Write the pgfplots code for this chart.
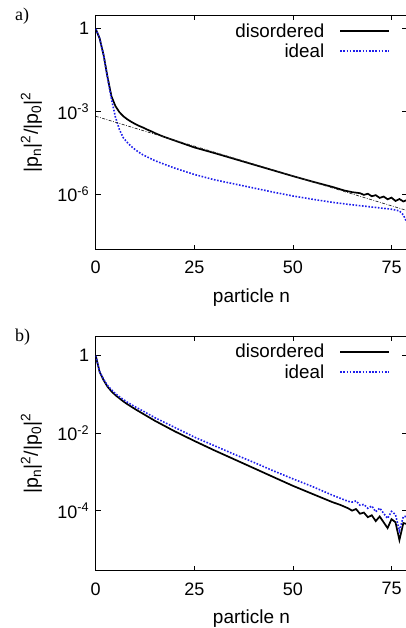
\documentclass[border=0pt]{standalone}
\usepackage{fontspec}
\setmainfont{Liberation Sans}
\newfontfamily\panelfont{Liberation Serif}
\usepackage{pgfplots}
\usepackage{pgfplotstable}
\pgfplotsset{compat=1.18}

\definecolor{idealblue}{RGB}{30,30,235}

% panel a)
\pgfplotstableread{
n y
0 1
1 0.447
2 0.112
3 0.0178
4 3.55e-3
5 1.58e-3
6 9.55e-4
7 6.76e-4
8 5.25e-4
9 4.27e-4
10 3.55e-4
11 3.02e-4
12 2.63e-4
13 2.24e-4
14 1.95e-4
15 1.66e-4
17 1.26e-4
20 8.91e-5
25 5.01e-5
30 3.16e-5
35 1.95e-5
40 1.20e-5
45 7.41e-6
50 4.57e-6
55 2.88e-6
60 1.86e-6
63 1.38e-6
65 1.20e-6
67 1.10e-6
68 9.55e-7
69 1.05e-6
70 8.51e-7
71 9.33e-7
72 7.41e-7
73 8.32e-7
74 6.61e-7
75 7.59e-7
76 5.75e-7
77 6.76e-7
78 5.50e-7
79 6.31e-7
}\disA
\pgfplotstableread{
n y
0 1
1 0.447
2 0.112
3 0.0166
4 2.82e-3
5 6.31e-4
6 2.24e-4
7 1.12e-4
8 7.59e-5
9 5.50e-5
10 4.17e-5
11 3.31e-5
12 2.69e-5
13 2.29e-5
15 1.66e-5
17 1.29e-5
20 8.91e-6
25 5.25e-6
30 3.39e-6
35 2.40e-6
40 1.70e-6
45 1.20e-6
50 8.71e-7
55 6.61e-7
60 5.13e-7
65 4.17e-7
70 3.47e-7
75 2.88e-7
77 2.51e-7
78 1.78e-7
79 8.91e-8
}\idA
% panel b)
\pgfplotstableread{
n y
0 1
1 0.380
2 0.234
3 0.158
4 0.120
5 0.0955
6 0.0794
7 0.0661
8 0.0562
10 0.0417
12 0.0316
15 0.0209
20 0.0112
25 6.31e-3
30 3.63e-3
35 2.14e-3
40 1.26e-3
45 7.41e-4
50 4.37e-4
55 2.69e-4
60 1.66e-4
62 1.41e-4
64 1.15e-4
65 1.00e-4
66 1.10e-4
67 8.32e-5
68 8.91e-5
69 6.76e-5
70 7.59e-5
71 5.37e-5
72 7.08e-5
73 5.01e-5
74 3.55e-5
75 6.03e-5
76 5.01e-5
77 1.74e-5
78 4.79e-5
79 4.47e-5
}\disB
\pgfplotstableread{
n y
0 1
1 0.389
2 0.245
3 0.170
4 0.132
5 0.105
6 0.0871
7 0.0741
8 0.0631
10 0.0479
12 0.0372
15 0.0251
20 0.0141
25 7.94e-3
30 4.79e-3
35 2.88e-3
40 1.78e-3
45 1.07e-3
50 6.61e-4
55 4.17e-4
60 2.51e-4
62 2.09e-4
64 1.74e-4
65 1.66e-4
66 1.78e-4
67 1.38e-4
68 1.45e-4
69 1.15e-4
70 1.32e-4
71 9.33e-5
72 1.17e-4
73 8.51e-5
74 6.31e-5
75 9.55e-5
76 7.94e-5
77 3.02e-5
78 7.08e-5
79 7.08e-5
}\idB

\pgfplotsset{
  panelaxis/.style={
    scale only axis,
    width=311.6pt, height=234.5pt,
    xmin=0, xmax=79,
    xtick={0,25,50,75},
    yminorticks=false,
    tick align=inside,
    major tick length=5pt,
    axis line style={line width=0.9pt},
    every tick/.style={black, line width=0.8pt},
    /pgf/number format/assume math mode=true,
    tick label style={font=\fontsize{18}{21}\selectfont},
    xticklabel style={anchor=center, yshift=-18pt},
    yticklabel style={xshift=-3pt},
    xlabel={particle n},
    xlabel style={font=\fontsize{19}{22}\selectfont, at={(axis description cs:0.5,0)},
      anchor=center, yshift=-48pt},
    ylabel={|p\textsubscript{n}|\textsuperscript{2}/|p\textsubscript{0}|\textsuperscript{2}},
    ylabel style={font=\fontsize{19.5}{22}\selectfont, at={(axis description cs:-0.206,0.5)},
      anchor=center},
    legend style={at={(0.945,0.975)}, anchor=north east, draw=none, fill=none,
      font=\fontsize{18.8}{21}\selectfont, inner sep=0pt, row sep=1pt, column sep=13pt},
    legend cell align=right,
    legend plot pos=right,
  },
  disline/.style={black, line width=1.7pt},
  idline/.style={idealblue, line width=1.6pt, dash pattern=on 1.6pt off 1.6pt},
}
\pgfplotsset{legend image code/.code={\draw[#1] (0pt,0pt) -- (49pt,0pt);}}

\begin{document}
\begin{tikzpicture}
\useasboundingbox (0,0) rectangle (406pt,-628pt);

\begin{axis}[ymode=log, panelaxis,
  at={(95.7pt,-15pt)}, anchor=north west,
  ymin=1e-8, ymax=3.16,
  ytick={1,1e-3,1e-6},
  yticklabels={1,10\textsuperscript{-3},10\textsuperscript{-6}},
  legend style={yshift=-0.5pt},
]
\addplot[disline] table[x=n, y=y] {\disA};
\addlegendentry{disordered}
\addplot[idline] table[x=n, y=y] {\idA};
\addlegendentry{ideal}
\addplot[black!85, line width=0.7pt, dash pattern=on 3pt off 1.5pt on 0.8pt off 1.5pt, forget plot]
  coordinates {(0,6.76e-4) (79,2.57e-7)};
\end{axis}

\begin{axis}[ymode=log, panelaxis,
  at={(95.7pt,-336.3pt)}, anchor=north west,
  ymin=2.8e-6, ymax=3.16,
  ytick={1,1e-2,1e-4},
  yticklabels={1,10\textsuperscript{-2},10\textsuperscript{-4}},
]
\addplot[disline] table[x=n, y=y] {\disB};
\addlegendentry{disordered}
\addplot[idline] table[x=n, y=y] {\idB};
\addlegendentry{ideal}
\end{axis}

\node[anchor=north west, inner sep=0pt, font=\panelfont\fontsize{18}{21}\selectfont] at (15pt,-8pt) {a)};
\node[anchor=north west, inner sep=0pt, font=\panelfont\fontsize{18}{21}\selectfont] at (15pt,-329pt) {b)};
\end{tikzpicture}
\end{document}
